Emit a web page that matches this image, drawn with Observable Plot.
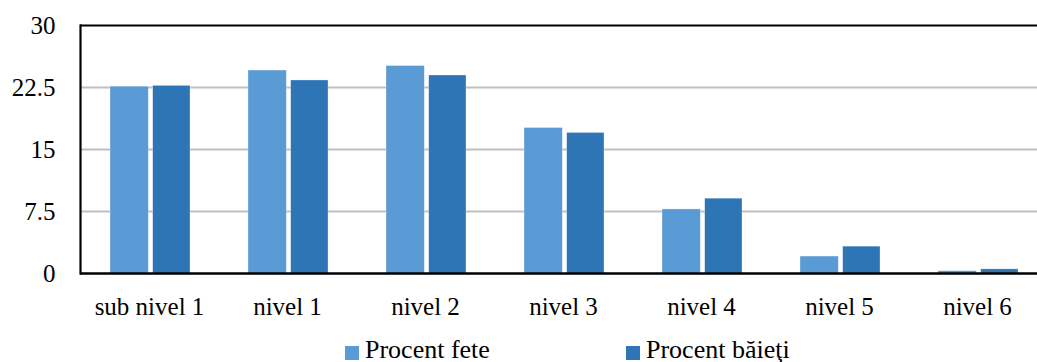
<!DOCTYPE html>
<html>
<head>
<meta charset="utf-8">
<script src="https://cdn.jsdelivr.net/npm/d3@7"></script>
<script src="https://cdn.jsdelivr.net/npm/@observablehq/plot@0.6"></script>
<style>
  html, body { margin: 0; padding: 0; background: #fff; overflow: hidden; }
  body { width: 1037px; height: 362px; position: relative; font-family: "Liberation Serif", "Times New Roman", serif; }
  #chart { position: absolute; left: 0; top: 0; width: 1060px; }
  #chart svg, #chart svg text { font-family: "Liberation Serif", "Times New Roman", serif !important; }
  .legend { position: absolute; top: 337px; left: 0; font-size: 26px; line-height: 26px; color: #000; white-space: nowrap; }
  .legend .item { position: absolute; top: 0; }
  .legend .swatch { position: absolute; top: 9px; width: 14px; height: 14px; }
  .legend .label { position: absolute; top: 0; }
</style>
</head>
<body>
<div id="chart"></div>
<div class="legend" id="legend"></div>
<script>
// Share of pupils per proficiency level, girls vs. boys (%)
const categories = ["sub nivel 1", "nivel 1", "nivel 2", "nivel 3", "nivel 4", "nivel 5", "nivel 6"];
const fete   = [22.6, 24.55, 25.1, 17.6, 7.75, 2.05, 0.28];
const baieti = [22.7, 23.35, 23.95, 17.0, 9.05, 3.25, 0.5];
const yTicks = [0, 7.5, 15, 22.5, 30];
const yTickLabels = ["0", "7.5", "15", "22.5", "30"];
const seriesNames = ["Procent fete", "Procent băieţi"];
const seriesColors = ["#5B9BD5", "#2E75B6"];

const rowsFete = categories.map((c, i) => ({category: c, value: fete[i]}));
const rowsBaieti = categories.map((c, i) => ({category: c, value: baieti[i]}));

const chart = Plot.plot({
  width: 1060,
  height: 330,
  marginLeft: 80,
  marginRight: 14,
  marginTop: 25,
  marginBottom: 57,
  style: {fontFamily: "Liberation Serif, Times New Roman, serif", fontSize: "25px", color: "#000", background: "transparent", overflow: "visible", maxWidth: "none"},
  x: {domain: categories, padding: 0, label: null, tickSize: 0, tickPadding: 24},
  y: {domain: [0, 30], ticks: yTicks, tickFormat: (d) => yTickLabels[yTicks.indexOf(d)], label: null, tickSize: 0, tickPadding: 25},
  marks: [
    Plot.ruleY(yTicks.filter(t => t > 0 && t < 30), {stroke: "#BFBFBF", strokeWidth: 2}),
    Plot.barY(rowsFete, {x: "category", y: "value", fill: seriesColors[0], insetLeft: 30, insetRight: 69.7, stroke: "#fff", strokeWidth: 0.6, strokeOpacity: 0.5}),
    Plot.barY(rowsBaieti, {x: "category", y: "value", fill: seriesColors[1], insetLeft: 72.7, insetRight: 28, stroke: "#fff", strokeWidth: 0.6, strokeOpacity: 0.5}),
    Plot.ruleY([30], {stroke: "#000", strokeWidth: 2.2}),
    Plot.frame({anchor: "left", stroke: "#000", strokeWidth: 2.2}),
    Plot.ruleY([0], {stroke: "#000", strokeWidth: 2.6})
  ]
});
document.getElementById("chart").appendChild(chart);

// Legend below the plot
const legend = document.getElementById("legend");
const legendX = [345, 626];
seriesNames.forEach((name, i) => {
  const item = document.createElement("div");
  item.className = "item";
  item.style.left = legendX[i] + "px";
  const sw = document.createElement("div");
  sw.className = "swatch";
  sw.style.left = "0px";
  sw.style.background = seriesColors[i];
  const lb = document.createElement("div");
  lb.className = "label";
  lb.style.left = "20px";
  lb.textContent = name;
  item.appendChild(sw);
  item.appendChild(lb);
  legend.appendChild(item);
});
</script>
</body>
</html>
